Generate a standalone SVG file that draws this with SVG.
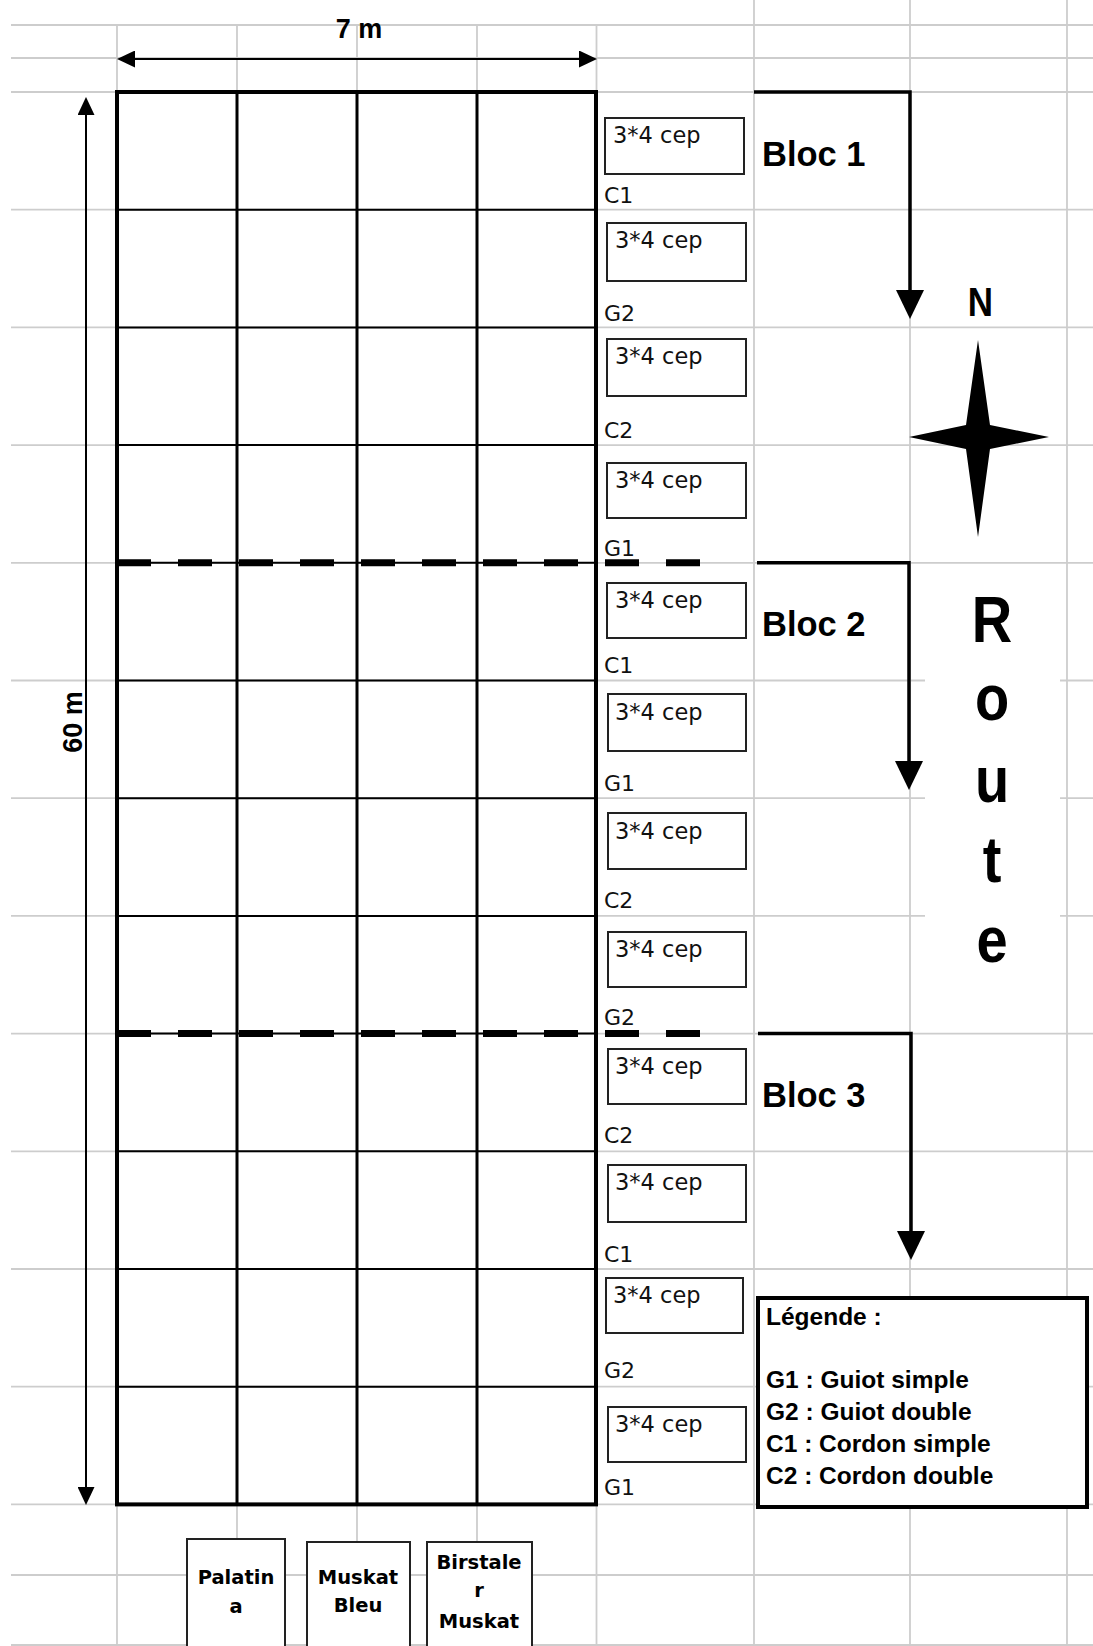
<svg xmlns="http://www.w3.org/2000/svg" width="1093" height="1646" viewBox="0 0 1093 1646">
<defs>
<style>
.grid line { stroke:#cdcdcd; stroke-width:1.8; }
.frame { fill:none; stroke:#000; stroke-width:4; }
.vline { stroke:#000; stroke-width:3; }
.hline { stroke:#000; stroke-width:2; }
.dash { stroke:#000; stroke-width:7; stroke-dasharray:34 27; }
.blocarrow { fill:none; stroke:#000; stroke-width:3.5; marker-end:url(#bigArrow); }
.dimline { stroke:#000; stroke-width:2; marker-start:url(#dimArrow); marker-end:url(#dimArrow); }
.cbox { fill:#fff; stroke:#222; stroke-width:2; }
.cep { font-family:"DejaVu Sans", sans-serif; font-size:22.5px; fill:#111; }
.lbl { font-family:"DejaVu Sans", sans-serif; font-size:22px; fill:#111; }
.bloc { font-family:"Liberation Sans", Arial, sans-serif; font-weight:bold; font-size:34.5px; fill:#000; }
.big { font-family:"Liberation Sans", Arial, sans-serif; font-weight:bold; fill:#000; text-anchor:middle; }
.leg { font-family:"Liberation Sans", Arial, sans-serif; font-weight:bold; font-size:24.5px; fill:#000; }
.legbox { fill:#fff; stroke:#000; stroke-width:4; }
.vbox { fill:#fff; stroke:#222; stroke-width:2; }
.var { font-family:"DejaVu Sans", sans-serif; font-weight:bold; font-size:19.5px; fill:#000; text-anchor:middle; }
</style>
<marker id="bigArrow" markerUnits="userSpaceOnUse" viewBox="0 0 29 28" markerWidth="29" markerHeight="28" refX="9" refY="14" orient="auto"><path d="M0,0 L29,14 L0,28 Z" fill="#000"/></marker>
<marker id="dimArrow" markerUnits="userSpaceOnUse" viewBox="0 0 18 17" markerWidth="18" markerHeight="17" refX="6" refY="8.5" orient="auto-start-reverse"><path d="M0,0 L18,8.5 L0,17 Z" fill="#000"/></marker>
</defs>
<rect x="0" y="0" width="1093" height="1646" fill="#fff"/>
<g id="grid" class="grid">
<line x1="11" y1="25" x2="1093" y2="25"/>
<line x1="11" y1="58" x2="1093" y2="58"/>
<line x1="11" y1="92" x2="1093" y2="92"/>
<line x1="11" y1="209.7" x2="1093" y2="209.7"/>
<line x1="11" y1="327.4" x2="1093" y2="327.4"/>
<line x1="11" y1="445.1" x2="1093" y2="445.1"/>
<line x1="11" y1="562.8" x2="1093" y2="562.8"/>
<line x1="11" y1="680.5" x2="1093" y2="680.5"/>
<line x1="11" y1="798.2" x2="1093" y2="798.2"/>
<line x1="11" y1="915.9" x2="1093" y2="915.9"/>
<line x1="11" y1="1033.6" x2="1093" y2="1033.6"/>
<line x1="11" y1="1151.3" x2="1093" y2="1151.3"/>
<line x1="11" y1="1269" x2="1093" y2="1269"/>
<line x1="11" y1="1386.7" x2="1093" y2="1386.7"/>
<line x1="11" y1="1504.4" x2="1093" y2="1504.4"/>
<line x1="11" y1="1575" x2="1093" y2="1575"/>
<line x1="11" y1="1645" x2="1093" y2="1645"/>
<line x1="117" y1="25" x2="117" y2="1646"/>
<line x1="237" y1="25" x2="237" y2="1646"/>
<line x1="357" y1="25" x2="357" y2="1646"/>
<line x1="477" y1="25" x2="477" y2="1646"/>
<line x1="596.5" y1="25" x2="596.5" y2="1646"/>
<line x1="754" y1="0" x2="754" y2="1646"/>
<line x1="910" y1="0" x2="910" y2="1646"/>
<line x1="1067" y1="0" x2="1067" y2="1646"/>
</g>
<rect x="925" y="568" width="135" height="430" fill="#fff"/>
<g id="plot">
<line class="hline" x1="117" y1="209.7" x2="596" y2="209.7"/>
<line class="hline" x1="117" y1="327.4" x2="596" y2="327.4"/>
<line class="hline" x1="117" y1="445.1" x2="596" y2="445.1"/>
<line class="hline" x1="117" y1="562.8" x2="596" y2="562.8"/>
<line class="hline" x1="117" y1="680.5" x2="596" y2="680.5"/>
<line class="hline" x1="117" y1="798.2" x2="596" y2="798.2"/>
<line class="hline" x1="117" y1="915.9" x2="596" y2="915.9"/>
<line class="hline" x1="117" y1="1033.6" x2="596" y2="1033.6"/>
<line class="hline" x1="117" y1="1151.3" x2="596" y2="1151.3"/>
<line class="hline" x1="117" y1="1269" x2="596" y2="1269"/>
<line class="hline" x1="117" y1="1386.7" x2="596" y2="1386.7"/>
<line class="vline" x1="237" y1="92" x2="237" y2="1504"/>
<line class="vline" x1="357" y1="92" x2="357" y2="1504"/>
<line class="vline" x1="477" y1="92" x2="477" y2="1504"/>
<rect class="frame" x="117" y="92" width="479" height="1412.4"/>
<line class="dash" x1="117" y1="562.8" x2="701" y2="562.8"/>
<line class="dash" x1="117" y1="1033.6" x2="701" y2="1033.6"/>
</g>
<g id="connectors">
<line class="dimline" x1="129" y1="59" x2="585" y2="59"/>
<line class="dimline" x1="86" y1="109" x2="86" y2="1493"/>
<path class="blocarrow" d="M754,92 H910 V299"/>
<path class="blocarrow" d="M757,562.8 H909 V770"/>
<path class="blocarrow" d="M758,1033.6 H911 V1240"/>
</g>
<g id="dims">
<text class="big" x="359" y="38" font-size="27">7 m</text>
<text class="big" font-size="27" transform="translate(82,722) rotate(-90)" x="0" y="0">60 m</text>
</g>
<g id="box1"><rect class="cbox" x="605" y="118" width="139" height="56"/><text class="cep" x="613" y="143">3*4 cep</text><text class="lbl" x="604" y="203">C1</text></g>
<g id="box2"><rect class="cbox" x="607" y="223" width="139" height="58"/><text class="cep" x="615" y="248">3*4 cep</text><text class="lbl" x="604" y="321">G2</text></g>
<g id="box3"><rect class="cbox" x="607" y="339" width="139" height="57"/><text class="cep" x="615" y="364">3*4 cep</text><text class="lbl" x="604" y="438">C2</text></g>
<g id="box4"><rect class="cbox" x="607" y="463" width="139" height="55"/><text class="cep" x="615" y="488">3*4 cep</text><text class="lbl" x="604" y="556">G1</text></g>
<g id="box5"><rect class="cbox" x="607" y="583" width="139" height="55"/><text class="cep" x="615" y="608">3*4 cep</text><text class="lbl" x="604" y="673">C1</text></g>
<g id="box6"><rect class="cbox" x="608" y="694" width="138" height="57"/><text class="cep" x="615" y="720">3*4 cep</text><text class="lbl" x="604" y="791">G1</text></g>
<g id="box7"><rect class="cbox" x="608" y="813" width="138" height="56"/><text class="cep" x="615" y="839">3*4 cep</text><text class="lbl" x="604" y="908">C2</text></g>
<g id="box8"><rect class="cbox" x="608" y="932" width="138" height="55"/><text class="cep" x="615" y="957">3*4 cep</text><text class="lbl" x="604" y="1025">G2</text></g>
<g id="box9"><rect class="cbox" x="608" y="1049" width="138" height="55"/><text class="cep" x="615" y="1074">3*4 cep</text><text class="lbl" x="604" y="1143">C2</text></g>
<g id="box10"><rect class="cbox" x="608" y="1165" width="138" height="57"/><text class="cep" x="615" y="1190">3*4 cep</text><text class="lbl" x="604" y="1262">C1</text></g>
<g id="box11"><rect class="cbox" x="606" y="1278" width="137" height="55"/><text class="cep" x="613" y="1303">3*4 cep</text><text class="lbl" x="604" y="1378">G2</text></g>
<g id="box12"><rect class="cbox" x="608" y="1407" width="138" height="55"/><text class="cep" x="615" y="1432">3*4 cep</text><text class="lbl" x="604" y="1495">G1</text></g>
<g id="bloc1"><text class="bloc" x="762" y="166">Bloc 1</text></g>
<g id="bloc2"><text class="bloc" x="762" y="636">Bloc 2</text></g>
<g id="bloc3"><text class="bloc" x="762" y="1107">Bloc 3</text></g>
<g id="compass">
<text class="big" font-size="35" transform="translate(980.5,316) scale(1,1.15)" x="0" y="0">N</text>
<path d="M978,340 L990,425 L1049,437 L990,449 L978,537 L966,449 L909,437 L966,425 Z" fill="#000"/>
</g>
<g id="route">
<text class="big" font-size="56" transform="translate(992,642) scale(1,1.16)" x="0" y="0">R</text>
<text class="big" font-size="56" transform="translate(992,720) scale(1,1.16)" x="0" y="0">o</text>
<text class="big" font-size="56" transform="translate(992,802) scale(1,1.16)" x="0" y="0">u</text>
<text class="big" font-size="56" transform="translate(992,882) scale(1,1.16)" x="0" y="0">t</text>
<text class="big" font-size="56" transform="translate(992,962) scale(1,1.16)" x="0" y="0">e</text>
</g>
<g id="legend">
<rect class="legbox" x="758" y="1298" width="329" height="209"/>
<text class="leg" x="766" y="1325">Légende :</text>
<text class="leg" x="766" y="1388">G1 : Guiot simple</text>
<text class="leg" x="766" y="1420">G2 : Guiot double</text>
<text class="leg" x="766" y="1452">C1 : Cordon simple</text>
<text class="leg" x="766" y="1484">C2 : Cordon double</text>
</g>
<g id="var-palatina"><rect class="vbox" x="187" y="1539" width="98" height="120"/><text class="var" x="236" y="1584">Palatin</text><text class="var" x="236" y="1613">a</text></g>
<g id="var-muskatbleu"><rect class="vbox" x="307" y="1542" width="103" height="120"/><text class="var" x="358" y="1584">Muskat</text><text class="var" x="358" y="1612">Bleu</text></g>
<g id="var-birstaler"><rect class="vbox" x="427" y="1542" width="105" height="120"/><text class="var" x="479" y="1569">Birstale</text><text class="var" x="479" y="1597">r</text><text class="var" x="479" y="1628">Muskat</text></g>
</svg>
